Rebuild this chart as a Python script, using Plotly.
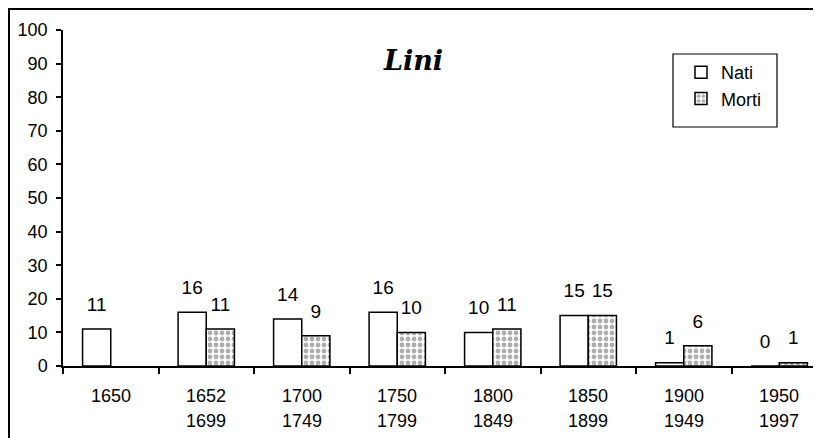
import plotly.graph_objects as go

# periods (two-line labels under each group)
period_start = ["1650", "1652", "1700", "1750", "1800", "1850", "1900", "1950"]
period_end = ["", "1699", "1749", "1799", "1849", "1899", "1949", "1997"]
categories = [a + "-" + b if b else a for a, b in zip(period_start, period_end)]

nati = [11, 16, 14, 16, 10, 15, 1, 0]
morti = [None, 11, 9, 10, 11, 15, 6, 1]

y_ticks = list(range(0, 101, 10))

# the page body adds an 8px margin, so the figure is 8px smaller
OFF = 8
W, H = 821 - OFF, 438 - OFF
L, R, T, B = 63 - OFF, 0, 30 - OFF, 72
GAP = 0.41
FONT = "Liberation Sans, Arial, sans-serif"

fig = go.Figure()

fig.add_trace(go.Bar(
    x=categories, y=nati, name="Nati",
    offsetgroup="n", alignmentgroup="g",
    marker=dict(color="white", line=dict(color="black", width=1.5)),
    hoverinfo="skip"
))
fig.add_trace(go.Bar(
    x=categories, y=morti, name="Morti",
    offsetgroup="m", alignmentgroup="g",
    marker=dict(
        color="white",
        line=dict(color="black", width=1.5),
        pattern=dict(shape=".", fgcolor="#5e5e5e", bgcolor="white",
                     size=6, solidity=0.5)
    ),
    hoverinfo="skip"
))

# value labels, grouped like the bars
for vals, grp in [(nati, "n"), (morti, "m")]:
    fig.add_trace(go.Scatter(
        x=categories, y=vals,
        mode="markers+text",
        text=[str(v) if v is not None else "" for v in vals],
        textposition="top center",
        textfont=dict(family=FONT, size=19, color="black"),
        marker=dict(size=20, opacity=0),
        offsetgroup=grp, alignmentgroup="g",
        showlegend=False, hoverinfo="skip"
    ))

# two-line period labels
annotations = []
for i, (a, b) in enumerate(zip(period_start, period_end)):
    annotations.append(dict(x=i, y=-0.089, xref="x", yref="paper", text=a,
                            showarrow=False, yanchor="middle",
                            font=dict(family=FONT, size=18, color="black")))
    if b:
        annotations.append(dict(x=i, y=-0.163, xref="x", yref="paper", text=b,
                                showarrow=False, yanchor="middle",
                                font=dict(family=FONT, size=18, color="black")))

pw, ph = W - L - R, H - T - B
def px_x(p):
    return (p - OFF - L) / pw
def px_y(p):
    return (H - B - (p - OFF)) / ph

annotations.append(dict(
    x=px_x(413), y=px_y(60), xref="paper", yref="paper",
    xanchor="center", yanchor="middle",
    text="<b><i>Lini</i></b>", showarrow=False,
    font=dict(family="DejaVu Serif, serif", size=27, color="black")
))

shapes = [
    # outer chart border (cut off at right and bottom)
    dict(type="rect", xref="paper", yref="paper",
         x0=px_x(9), x1=px_x(860), y0=px_y(470), y1=px_y(9),
         line=dict(color="black", width=2), layer="below"),
    # legend box
    dict(type="rect", xref="paper", yref="paper",
         x0=px_x(673), x1=px_x(777), y0=px_y(127), y1=px_y(54),
         line=dict(color="black", width=1.2), fillcolor="white", layer="above"),
]

fig.update_layout(
    width=W, height=H,
    margin=dict(l=L, r=R, t=T, b=B),
    paper_bgcolor="white", plot_bgcolor="white",
    barmode="group", bargap=GAP, bargroupgap=0,
    scattermode="group", scattergap=GAP,
    showlegend=True,
    legend=dict(x=px_x(681), y=px_y(54), xanchor="left", yanchor="top",
                bgcolor="rgba(0,0,0,0)", borderwidth=0,
                font=dict(family=FONT, size=18, color="black"),
                itemwidth=30, tracegroupgap=4),
    annotations=annotations,
    shapes=shapes,
    xaxis=dict(type="category", range=[-0.5, 7.5 - 6 / 95.5],
               showline=True, linecolor="black", linewidth=1.5,
               ticks="outside", tickson="boundaries", ticklen=6,
               tickcolor="black", tickwidth=1.5,
               showticklabels=False, showgrid=False, zeroline=False),
    yaxis=dict(range=[0, 100], tickvals=y_ticks,
               showline=True, linecolor="black", linewidth=1.5,
               ticks="outside", ticklen=5, tickcolor="black", tickwidth=1.5,
               ticklabelstandoff=5,
               tickfont=dict(family=FONT, size=18, color="black"),
               showgrid=False, zeroline=False),
    # inner half of the crossing tick marks
    yaxis2=dict(overlaying="y", anchor="x", side="left", range=[0, 100],
                tickvals=y_ticks, ticks="inside", ticklen=4,
                tickcolor="black", tickwidth=1.5, showticklabels=False,
                showline=False, showgrid=False, zeroline=False),
    xaxis2=dict(overlaying="x", anchor="y", side="bottom",
                range=[-0.5, 7.5 - 6 / 95.5],
                tickvals=[i + 0.5 for i in range(len(categories) - 1)],
                ticks="inside", ticklen=4, tickcolor="black", tickwidth=1.5,
                showticklabels=False, showline=False, showgrid=False,
                zeroline=False),
)

fig.write_html("out.html")
